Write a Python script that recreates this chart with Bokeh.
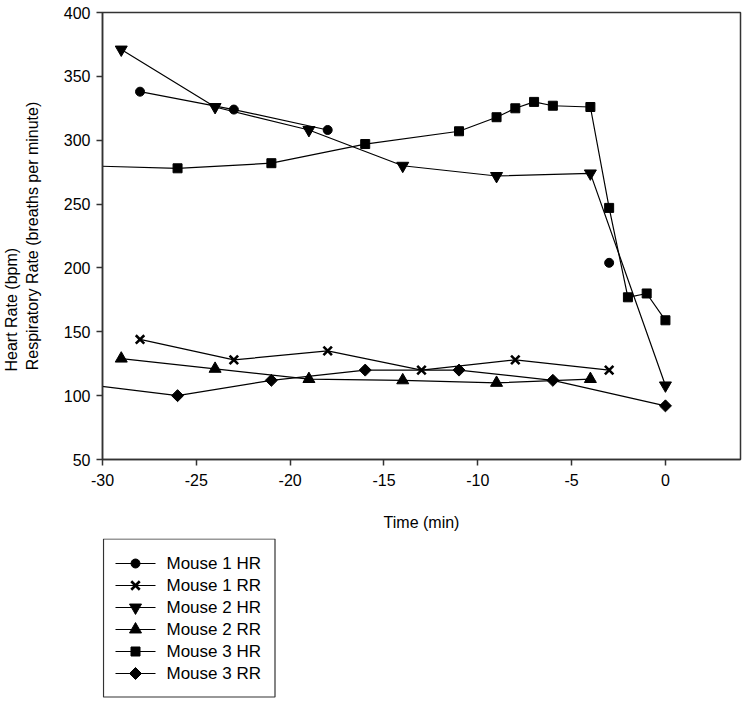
import math
from bokeh.plotting import figure
from bokeh.layouts import column
from bokeh.models import Range1d, FixedTicker, Title
from bokeh.core.properties import value
from bokeh.embed import file_html
from bokeh.resources import INLINE

NaN = float("nan")

# ---- data (time in min, rate in bpm / breaths per minute) ----
m1_hr_t = [-28, -23, -18, -8, -3]
m1_hr_v = [338, 324, 308, NaN, 204]

m1_rr_t = [-28, -23, -18, -13, -8, -3]
m1_rr_v = [144, 128, 135, 120, 128, 120]

m2_hr_t = [-29, -24, -19, -14, -9, -4, 0]
m2_hr_v = [371, 326, 308, 280, 272, 274, 108]

m2_rr_t = [-29, -24, -19, -14, -9, -4]
m2_rr_v = [129, 121, 113, 112, 110, 113]

m3_hr_t = [-31, -26, -21, -16, -11, -9, -8, -7, -6, -4, -3, -2, -1, 0]
m3_hr_v = [280, 278, 282, 297, 307, 318, 325, 330, 327, 326, 247, 177, 180, 159]

m3_rr_t = [-31, -26, -21, -16, -11, -6, 0]
m3_rr_v = [109, 100, 112, 120, 120, 112, 92]

series_names = ["Mouse 1 HR", "Mouse 1 RR", "Mouse 2 HR", "Mouse 2 RR", "Mouse 3 HR", "Mouse 3 RR"]
x_ticks = [-30, -25, -20, -15, -10, -5, 0]
x_tick_labels = ["-30", "-25", "-20", "-15", "-10", "-5", "0"]
y_ticks = [50, 100, 150, 200, 250, 300, 350, 400]

FONT = "Liberation Sans"
AX = "#333333"

W = 745
BORDER_L, BORDER_R = 102, 5

p = figure(width=W, height=538, output_backend="svg", toolbar_location=None,
           x_range=Range1d(-30, 4), y_range=Range1d(50, 400),
           min_border_left=BORDER_L, min_border_right=BORDER_R, min_border_top=12, min_border_bottom=79)
p.grid.visible = False
p.outline_line_color = AX
p.outline_line_width = 1.5
p.background_fill_color = "white"
p.border_fill_color = "white"

for ax in (p.xaxis[0], p.yaxis[0]):
    ax.axis_line_color = AX
    ax.axis_line_width = 1.5
    ax.major_tick_line_color = AX
    ax.major_tick_line_width = 1.5
    ax.major_tick_in = 0
    ax.major_tick_out = 6
    ax.minor_tick_line_color = None
    ax.major_label_text_font = FONT
    ax.major_label_text_font_size = "16px"
    ax.major_label_text_color = "black"
    ax.axis_label_text_font = FONT
    ax.axis_label_text_font_size = "16px"
    ax.axis_label_text_font_style = "normal"
    ax.axis_label_text_color = "black"

p.xaxis.ticker = FixedTicker(ticks=x_ticks)
p.xaxis.major_label_overrides = dict(zip(x_ticks, x_tick_labels))
p.yaxis.ticker = FixedTicker(ticks=y_ticks)
p.xaxis.major_label_standoff = 8
p.yaxis.major_label_standoff = 6
p.xaxis.axis_label = "Time (min)"
p.xaxis.axis_label_standoff = 25
p.yaxis.axis_label = "Respiratory Rate (breaths per minute)"
p.yaxis.axis_label_standoff = 20

p.add_layout(Title(text="Heart Rate (bpm)", align="left", offset=88, standoff=0,
                   vertical_align="middle", text_font=FONT, text_font_size="16px",
                   text_font_style="normal", text_color="black"), "left")

# marker, size, angle, outline width
styles = [
    ("circle", 9, 0.0, 1),
    ("x", 12, 0.0, 2.6),
    ("inverted_triangle", 12, 0.0, 1),
    ("triangle", 12, 0.0, 1),
    ("square", 9, 0.0, 1),
    ("square", 8.5, math.pi / 4, 1),
]
series = [(m1_hr_t, m1_hr_v), (m1_rr_t, m1_rr_v), (m2_hr_t, m2_hr_v),
          (m2_rr_t, m2_rr_v), (m3_hr_t, m3_hr_v), (m3_rr_t, m3_rr_v)]

for (t, v), (mk, sz, ang, lw) in zip(series, styles):
    p.line(t, v, line_color="black", line_width=1.2)
    p.scatter(t, v, marker=mk, size=sz, angle=ang, fill_color="black",
              line_color="black", line_width=lw)

# ---- legend box below the chart (pixel-unit figure, y downward) ----
LH = 163
lg = figure(width=W, height=LH, output_backend="svg", toolbar_location=None,
            x_range=Range1d(BORDER_L, W - BORDER_R), y_range=Range1d(LH, 0),
            min_border_left=BORDER_L, min_border_right=BORDER_R, min_border_top=0, min_border_bottom=0)
lg.axis.visible = False
lg.grid.visible = False
lg.outline_line_color = None
lg.border_fill_color = "white"
lg.background_fill_color = "white"

box_l, box_r, box_t, box_b = 103, 274.5, 0.5, 158.5
row0, row_h = 25, 22
seg_l, seg_r, mark_x, text_x = 115, 155, 135, 166

n = len(series_names)
rows = [row0 + i * row_h for i in range(n)]
lg.quad(left=[box_l], right=[box_r], top=[box_t], bottom=[box_b],
        fill_color=None, line_color=AX, line_width=1.2)
lg.segment(x0=[seg_l] * n, y0=rows, x1=[seg_r] * n, y1=rows, line_color="black", line_width=1.2)
for y, (mk, sz, ang, lw) in zip(rows, styles):
    lg.scatter([mark_x], [y], marker=mk, size=sz, angle=ang, fill_color="black",
               line_color="black", line_width=lw)
lg.text(x=[text_x] * n, y=rows, text=series_names, text_font=value(FONT),
        text_font_size="17px", text_baseline="middle", text_align="left", text_color="black")

open("out.html", "w").write(file_html(column(p, lg, spacing=0), INLINE))
